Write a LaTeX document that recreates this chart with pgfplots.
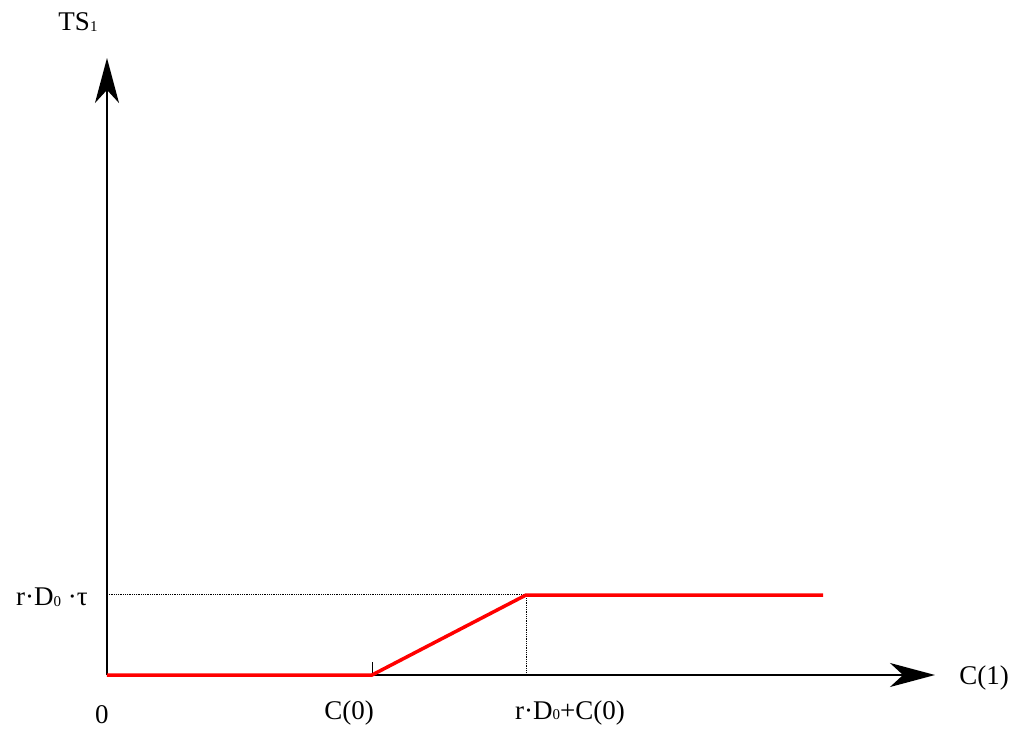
\documentclass[border=0pt]{standalone}
\usepackage{pgfplots}
\pgfplotsset{compat=1.18}
\usepackage{fontspec}
\setmainfont{Liberation Serif}
\usetikzlibrary{arrows.meta}
\newcommand{\sub}[1]{\raisebox{-0.5pt}{\fontsize{15}{15}\selectfont #1}}
\tikzset{lbl/.style={font=\fontsize{27}{30}\selectfont, inner sep=0pt}}
\begin{document}
\begin{tikzpicture}
\begin{axis}[
  scale only axis, width=828pt, height=617pt,
  xmin=0, xmax=828, ymin=0, ymax=617,
  axis lines=left,
  axis line style={line width=1.7pt, -{Stealth[length=45pt,width=24pt,inset=13pt]}},
  xtick=\empty, ytick=\empty,
  clip=false,
]
\path (axis cs:-107,-54) rectangle (axis cs:908,675);
\addplot[black, densely dotted, line width=0.8pt] coordinates {(0,81) (419,81) (419,0)};
\addplot[black, line width=0.8pt] coordinates {(265,0) (265,13)};
\addplot[red, line width=3.5pt] coordinates {(0,0) (265,0) (419,80) (716,80)};
\node[lbl] at (axis cs:-29,653) {TS\sub{1}};
\node[lbl] at (axis cs:877,-3) {C(1)};
\node[lbl] at (axis cs:-5,-40) {0};
\node[lbl] at (axis cs:242,-38) {C(0)};
\node[lbl] at (axis cs:463,-38) {r·D\sub{0}+C(0)};
\node[lbl] at (axis cs:-55,78) {r·D\sub{0} ·τ};
\end{axis}
\end{tikzpicture}
\end{document}
